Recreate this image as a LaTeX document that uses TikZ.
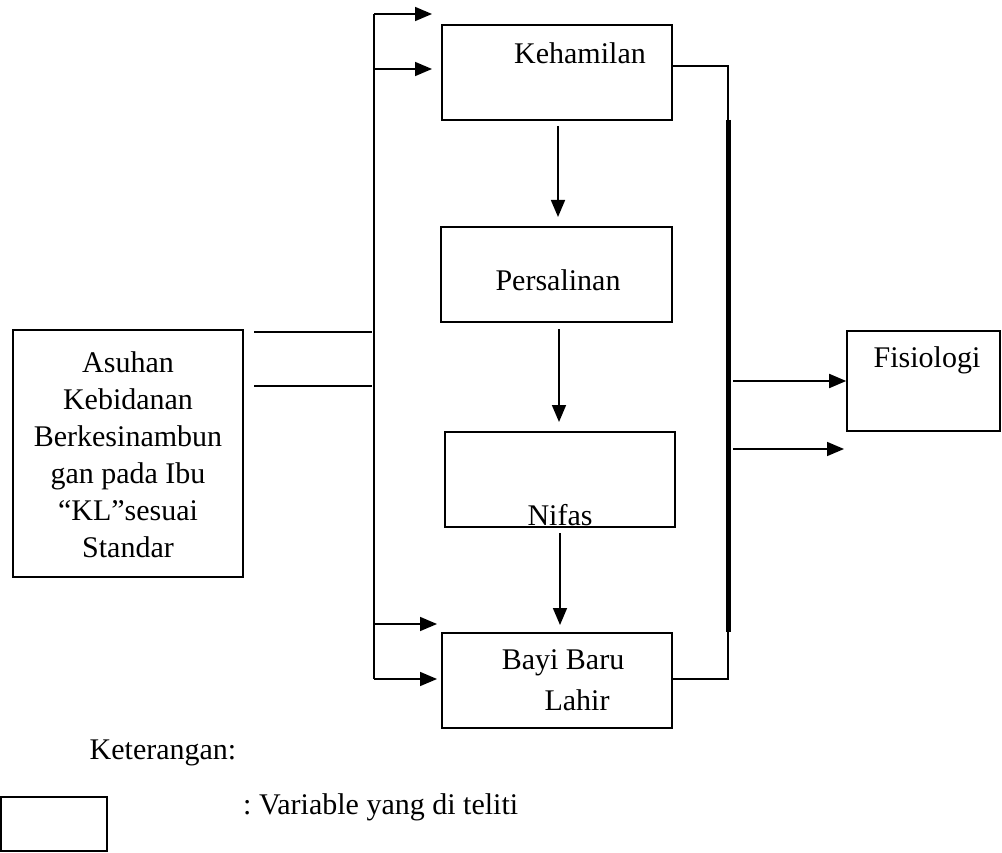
\documentclass[tikz,border=0pt]{standalone}
\usepackage{fontspec}
\setmainfont{Liberation Serif}
\usetikzlibrary{arrows.meta}
\begin{document}
\begin{tikzpicture}[x=1pt,y=-1pt,
  box/.style={draw, line width=2pt, inner sep=0pt},
  ln/.style={line width=1.7pt},
  arr/.style={line width=1.7pt, -{Triangle[length=17pt,width=14pt]}},
  lbl/.style={font=\fontsize{30}{37}\selectfont, inner sep=0pt}]
\useasboundingbox (0,0) rectangle (1002,853);
% boxes
\node[box, minimum width=230pt, minimum height=95pt] (keh) at (557,72.5) {};
\node[box, minimum width=231pt, minimum height=95pt] (per) at (556.5,274.5) {};
\node[box, minimum width=230pt, minimum height=95pt] (nif) at (560,479.5) {};
\node[box, minimum width=230pt, minimum height=95pt] (bayi) at (557,680.5) {};
\node[box, minimum width=230pt, minimum height=247pt] (asu) at (128,453.5) {};
\node[box, line width=1.6pt, minimum width=153pt, minimum height=100pt] (fis) at (923.5,381) {};
\node[box, minimum width=106pt, minimum height=54pt] (leg) at (54,824) {};
% texts
\node[lbl] (tkeh) at (580,53) {Kehamilan};
\node[lbl] (tper) at (558,280) {Persalinan};
\node[lbl, anchor=base] (tnif) at (560,525) {Nifas};
\node[lbl] (tfis) at (927,360) {Fisiologi};
\node[lbl] (tbayi1) at (563,663) {Bayi Baru};
\node[lbl] (tbayi2) at (577,700) {Lahir};
\node[lbl, align=center] (tasu) at (128,454.5) {Asuhan\\Kebidanan\\Berkesinambun\\gan pada Ibu\\“KL”sesuai\\Standar};
\node[lbl] (tket) at (163,753) {Keterangan:};
\node[lbl, anchor=west] (tvar) at (243,807) {\frenchspacing : Variable yang di teliti};
% coordinates
\coordinate (busT) at (374,14);
\coordinate (busB) at (374,679);
\coordinate (a1) at (432,14);
\coordinate (a2) at (432,69);
\coordinate (a3) at (437,624);
\coordinate (a4) at (437,679);
\coordinate (b1) at (372,332);
\coordinate (b2) at (372,386);
\coordinate (rT) at (728,66);
\coordinate (rB) at (728,679);
\coordinate (o2) at (844,449);
% vertical arrows
\draw[arr, shorten <=5pt, shorten >=9pt] (keh.south -| 558,0) -- (per.north -| 558,0);
\draw[arr, shorten <=6pt, shorten >=9pt] (per.south -| 559,0) -- (nif.north -| 559,0);
\draw[arr, shorten <=5pt, shorten >=7pt] (nif.south -| 560,0) -- (bayi.north -| 560,0);
% left bus
\draw[ln] (busT) -- (busB);
\draw[arr] (busT) -- (a1);
\draw[arr] (busT |- a2) -- (a2);
\draw[arr] (busT |- a3) -- (a3);
\draw[arr] (busB) -- (a4);
% from Asuhan
\draw[ln, shorten <=10pt] (asu.east |- b1) -- (b1);
\draw[ln, shorten <=10pt] (asu.east |- b2) -- (b2);
% right bus
\draw[ln] (keh.east |- rT) -- (rT) -- (rB) -- (bayi.east |- rB);
\draw[line width=5pt] (728,120) -- (728,632);
\draw[arr] (733,381) -- (fis.west);
\draw[arr] (733,449) -- (o2);
\end{tikzpicture}
\end{document}
